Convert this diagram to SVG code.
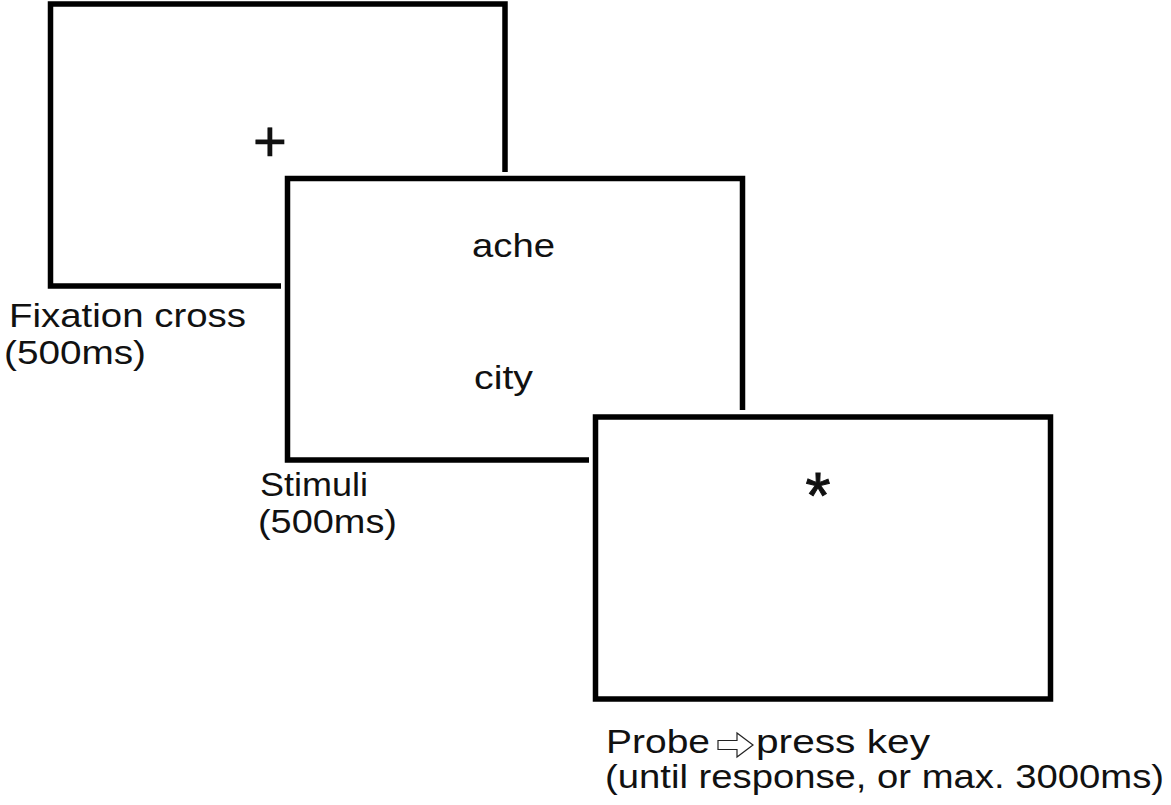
<svg xmlns="http://www.w3.org/2000/svg" width="1171" height="805" viewBox="0 0 1171 805">
<style>
.frame{fill:none;stroke:#000;stroke-width:5.5;stroke-linejoin:miter;stroke-linecap:butt}
.t{font-family:"Liberation Sans",Arial,sans-serif;font-size:33.5px;fill:#111}
.arrow{fill:#fff;stroke:#222;stroke-width:1.2;stroke-linejoin:miter}
</style>
<rect width="1171" height="805" fill="#fff"/>
<g id="fixation">
<path class="frame" d="M281 286 H50.5 V4 H505 V172"/>
<text class="t" x="270" y="160.5" text-anchor="middle" style="font-size:58px;stroke:#111;stroke-width:0.6">+</text>
<text class="t" x="9" y="327" textLength="237" lengthAdjust="spacingAndGlyphs">Fixation cross</text>
<text class="t" x="4" y="364" textLength="142" lengthAdjust="spacingAndGlyphs">(500ms)</text>
</g>
<g id="stimuli">
<path class="frame" d="M589 460 H287.5 V178.5 H742.5 V410"/>
<text class="t" x="472" y="257" textLength="83" lengthAdjust="spacingAndGlyphs">ache</text>
<text class="t" x="474" y="389" textLength="59" lengthAdjust="spacingAndGlyphs">city</text>
<text class="t" x="260" y="496" textLength="108" lengthAdjust="spacingAndGlyphs">Stimuli</text>
<text class="t" x="258" y="533" textLength="139" lengthAdjust="spacingAndGlyphs">(500ms)</text>
</g>
<g id="probe">
<rect class="frame" x="595.5" y="417" width="455" height="282"/>
<text class="t" x="818" y="518" text-anchor="middle" style="font-size:64px;stroke:#111;stroke-width:1">*</text>
<text class="t" x="606" y="753" textLength="104" lengthAdjust="spacingAndGlyphs">Probe</text>
<polygon class="arrow" points="718,740.5 737,740.5 737,733 753,745 737,757 737,749.5 718,749.5"/>
<text class="t" x="756" y="753" textLength="174" lengthAdjust="spacingAndGlyphs">press key</text>
<text class="t" x="605" y="788" textLength="559" lengthAdjust="spacingAndGlyphs">(until response, or max. 3000ms)</text>
</g>
<g id="connectors"></g>
</svg>
